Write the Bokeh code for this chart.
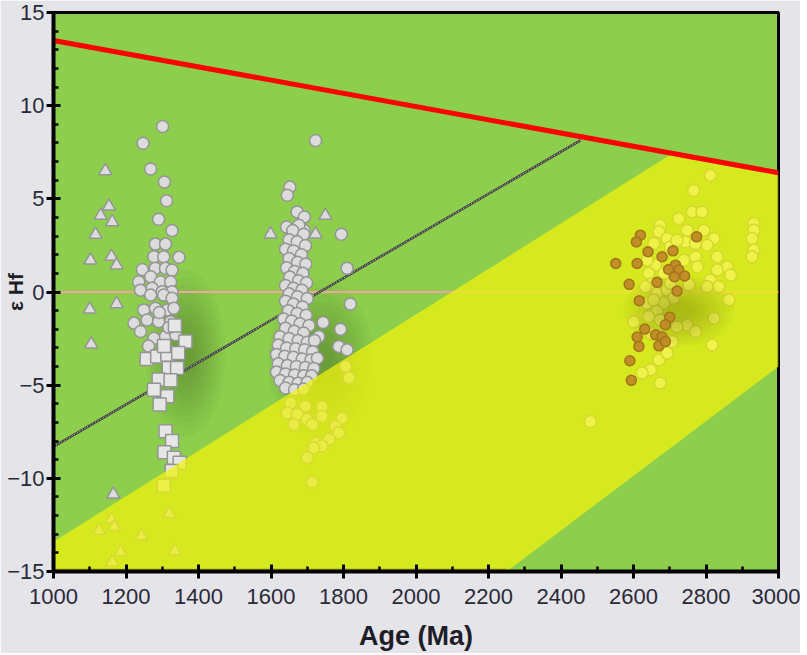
import numpy as np
from bokeh.plotting import figure
from bokeh.models import Range1d, FixedTicker
from bokeh.embed import file_html
from bokeh.resources import INLINE

# ---------------- data ----------------
x_ticks = [1000, 1200, 1400, 1600, 1800, 2000, 2200, 2400, 2600, 2800, 3000]
x_minor = [1100, 1300, 1500, 1700, 1900, 2100, 2300, 2500, 2700, 2900]
y_ticks = [-15, -10, -5, 0, 5, 10, 15]
y_minor = [v for v in range(-15, 16) if v % 5 != 0]

dm_age = [1000, 3000]
dm_ehf = [13.5, 6.4]
chur_age = [1000, 3000]
chur_ehf = [0, 0]
crust_age = [1000, 2455]
crust_ehf = [-8.3, 8.15]
band_age = [1000, 1000, 2708, 3000, 3000, 2250]
band_ehf = [-15, -13.4, 7.44, 6.4, -4.0, -15]

tri_age = [1143, 1153, 1130, 1162, 1116, 1102, 1160, 1174, 1599, 1750, 1723, 1100, 1174, 1104,
           1165, 1160, 1168, 1126, 1243, 1320, 1185, 1162, 1335]
tri_ehf = [6.5, 4.6, 4.1, 3.76, 3.08, 1.7, 1.9, 1.44, 3.1, 4.1, 3.1, -0.93, -0.64, -2.8,
           -10.86, -12.2, -12.6, -12.8, -13.1, -11.9, -13.96, -14.5, -13.9]

sq_age = [1364, 1257, 1286, 1314, 1344, 1318, 1341, 1290, 1323, 1277, 1314, 1293, 1309, 1327,
          1306, 1332, 1348, 1326, 1304, 1335, 1305]
sq_ehf = [-2.66, -3.6, -3.46, -3.37, -3.28, -4.08, -4.08, -4.7, -4.74, -5.24, -5.6, -6.04, -7.47, -8.0,
          -8.6, -8.9, -9.16, -9.6, -10.4, -1.8, -2.9]

b_age = [1301, 1247, 1268, 1306, 1312, 1290, 1327,
         1281, 1309, 1277, 1304, 1346, 1245, 1281, 1309, 1327, 1235, 1268, 1295, 1323, 1240, 1272, 1300, 1327,
         1268, 1304, 1327, 1249, 1281, 1314, 1332, 1222, 1258, 1290, 1323, 1240, 1277, 1309, 1337,
         1292, 1318, 1262]
b_ehf = [8.88, 7.98, 6.6, 5.9, 4.9, 3.9, 3.3,
         2.57, 2.57, 1.89, 1.89, 1.86, 1.21, 1.27, 1.27, 1.18, 0.55, 0.82, 0.55, 0.55, 0.1, 0.2, 0.02, 0.02,
         -0.16, -0.16, -0.34, -0.96, -0.87, -0.96, -0.87, -1.67, -1.5, -1.59, -1.59, -2.12, -2.48, -2.39, -2.3,
         -1.1, -1.9, -2.9]

c_age = [1723, 1652, 1645, 1672, 1692, 1643, 1692, 1658, 1794, 1810, 1819, 1744, 1792, 1732, 1787, 1810, 1806, 1815,
         1677, 1660, 1690, 1650, 1672, 1695, 1640, 1662, 1684, 1650, 1673, 1696, 1643, 1665, 1688, 1652, 1676, 1698,
         1640, 1662, 1685, 1650, 1673, 1700, 1640, 1662, 1687, 1648, 1672, 1697, 1635, 1657, 1680, 1705, 1640, 1664,
         1690, 1625, 1650, 1675, 1700, 1720, 1620, 1643, 1668, 1693, 1715, 1615, 1638, 1662, 1686, 1710, 1728, 1620,
         1645, 1670, 1695, 1718, 1615, 1640, 1665, 1690, 1712, 1625, 1650, 1675, 1700, 1640, 1665, 1690,
         1654, 1695, 1741, 1645, 1672, 1741, 1700, 1663, 1714, 1796, 1778, 1787, 1723, 1760, 1741, 1718, 1700, 1714]
c_ehf = [8.13, 5.63, 5.19, 4.3, 4.03, 3.49, 3.3, 2.96, 3.1, 1.27, -0.64, -1.64, -2.0, -2.39, -2.92, -3.1, -3.99, -4.6,
         3.58, 3.3, 3.1, 2.8, 2.7, 2.5, 2.3, 2.2, 2.0, 1.8, 1.6, 1.5, 1.3, 1.1, 1.0, 0.8, 0.6, 0.5,
         0.35, 0.2, 0.1, -0.1, -0.25, -0.35, -0.5, -0.65, -0.8, -1.0, -1.15, -1.25, -1.45, -1.55, -1.7, -1.8, -1.95, -2.1,
         -2.2, -2.4, -2.5, -2.6, -2.7, -2.6, -2.85, -3.0, -3.05, -3.1, -3.2, -3.35, -3.45, -3.5, -3.6, -3.65, -3.55, -3.85,
         -3.95, -4.0, -4.05, -4.1, -4.3, -4.4, -4.45, -4.5, -4.5, -4.75, -4.85, -4.9, -4.85, -5.15, -5.25, -5.2,
         -5.96, -6.13, -6.17, -6.49, -6.58, -6.67, -6.84, -7.11, -7.11, -6.76, -7.2, -7.56, -8.1, -7.9, -8.27, -8.36, -8.9, -10.2]

d_age = [2674, 2670, 2693, 2748, 2794, 2822, 2743, 2771, 2803, 2932, 2932, 2927, 2932, 2927, 2831, 2858, 2868, 2831,
         2812, 2835, 2803, 2661, 2642, 2651, 2633, 2665, 2693, 2711, 2684, 2638, 2863, 2665, 2822, 2748, 2771, 2720,
         2601, 2707, 2670, 2693, 2647, 2624, 2817, 2674, 2642, 2739, 2771, 2776, 2753, 2812, 2766, 2762, 2789, 2725,
         2656, 2702, 2720, 2638, 2684, 2702, 2656, 2674, 2647, 2481]
d_ehf = [3.58, 3.23, 2.87, 3.32, 3.32, 2.87, 2.69, 2.60, 2.51, 3.67, 3.32, 2.87, 2.25, 1.89, 1.89, 1.35, 0.91, 1.18,
         0.64, 0.28, 0.28, 1.44, 1.0, 0.46, 0.28, -0.07, 0.11, -0.34, -0.61, -0.61, -0.43, -1.05, -1.41, -1.77, -2.12, -1.86,
         -1.59, -2.66, -3.64, -3.28, -4.17, -4.35, -2.84, -4.89, -1.32, 1.71, 1.89, 1.35, 0.37, 6.26, 5.45, 4.30, 4.30, 3.94,
         2.6, 2.42, 2.78, 1.71, 1.0, 0.46, -0.43, -1.5, -2.21, -6.95]

o_age = [2619, 2608, 2640, 2709, 2774, 2679, 2551, 2610, 2716, 2697, 2725, 2713, 2741, 2665, 2588, 2720, 2616, 2700,
         2688, 2631, 2661, 2679, 2610, 2615, 2670, 2688, 2590, 2594]
o_ehf = [3.05, 2.69, 2.16, 2.21, 2.96, 1.89, 1.53, 1.53, 1.44, 1.21, 1.18, 0.82, 0.86, 0.52, 0.41, 0.05, -0.47, -1.35,
         -1.76, -1.99, -2.3, -2.42, -2.42, -2.92, -2.89, -2.66, -3.69, -4.74]

# ---------------- figure ----------------
p = figure(width=800, height=653, x_range=Range1d(x_ticks[0], x_ticks[-1]), y_range=Range1d(y_ticks[0], y_ticks[-1]),
           output_backend="svg", toolbar_location=None,
           min_border_left=53, min_border_right=22, min_border_top=12, min_border_bottom=80)
p.background_fill_color = "#8dce4c"
p.border_fill_color = "#e4e4e9"
p.grid.visible = False
p.outline_line_color = "black"
p.outline_line_width = 3


def soft_shadow(ages, ehfs, dx, dy, sx, sy, alpha, n=10):
    cx = float(np.median(ages)) + dx
    cy = float(np.median(ehfs)) + dy
    w = float(np.std(ages)) * sx
    h = float(np.std(ehfs)) * sy
    for k in range(n):
        f = 1.0 - k * (0.85 / n)
        p.ellipse(x=cx, y=cy, width=w * f, height=h * f,
                  fill_color="black", fill_alpha=alpha, line_color=None)


# blurred drop shadows behind the clusters
soft_shadow(b_age + sq_age, b_ehf + sq_ehf, 60, -2.2, 7.0, 2.2, 0.022)
soft_shadow(c_age, c_ehf, 60, -1.2, 6.0, 2.4, 0.022)

# reference lines (below the translucent band)
p.line(chur_age, chur_ehf, line_color="#f2a4a0", line_width=2)
p.line(crust_age, crust_ehf, line_color="#444444", line_width=2.5)
p.line(crust_age, crust_ehf, line_color="#d8d8d8", line_width=1, line_dash="1 2")

# data points
pt_fill = "#dcdcdc"
pt_line = "#959595"
p.scatter(c_age, c_ehf, marker="circle", size=12, fill_color=pt_fill, line_color=pt_line, line_width=1.5)
p.scatter(b_age, b_ehf, marker="circle", size=12, fill_color=pt_fill, line_color=pt_line, line_width=1.5)
p.scatter(sq_age, sq_ehf, marker="square", size=13, fill_color="#e6e6e6", line_color=pt_line, line_width=1.5)
p.scatter(tri_age, tri_ehf, marker="triangle", size=13, fill_color=pt_fill, line_color=pt_line, line_width=1.5)
p.scatter(d_age, d_ehf, marker="circle", size=12, fill_color="#f2f2f2", line_color="#8a8a8a", line_width=1.5)

# translucent yellow band on top
p.patch(band_age, band_ehf, fill_color="#eef10f", fill_alpha=0.75, line_color=None)
p.line(band_age[-1:] + band_age[:1], band_ehf[-1:] + band_ehf[:1], line_color="#b2ba12", line_width=6)

soft_shadow(d_age[:-1], d_ehf[:-1], 0, -2.0, 3.5, 1.6, 0.018)

p.scatter(o_age, o_ehf, marker="circle", size=10, fill_color="#c08a26", line_color="#a3741c",
          line_width=1.5, fill_alpha=0.95)

# depleted mantle line
p.line(dm_age, dm_ehf, line_color="#ff0000", line_width=5)

# ---------------- axes ----------------
p.xaxis.ticker = FixedTicker(ticks=x_ticks, minor_ticks=x_minor)
p.yaxis.ticker = FixedTicker(ticks=y_ticks, minor_ticks=y_minor)
for ax in (p.xaxis[0], p.yaxis[0]):
    ax.axis_line_width = 4
    ax.axis_line_color = "black"
    ax.major_tick_line_width = 3
    ax.major_tick_line_color = "black"
    ax.major_tick_in = 7
    ax.major_tick_out = 7
    ax.minor_tick_line_width = 2.5
    ax.minor_tick_line_color = "black"
    ax.minor_tick_in = 5
    ax.minor_tick_out = 0
    ax.major_label_text_font = "Liberation Sans"
    ax.major_label_text_font_size = "22px"
    ax.major_label_text_color = "#2a2a38"
    ax.axis_label_text_font = "Liberation Sans"
    ax.axis_label_text_font_style = "bold"
    ax.axis_label_text_color = "#1e1e28"
p.xaxis.major_label_standoff = 10
p.yaxis.major_label_standoff = 2
p.xaxis.axis_label = "Age (Ma)"
p.xaxis.axis_label_text_font_size = "27px"
p.xaxis.axis_label_standoff = 14

# y-axis title sits partly over the tick-label column, as in the reference
p.yaxis.axis_label = "ε Hf"
p.yaxis.axis_label_text_font_size = "21px"
p.yaxis.axis_label_standoff = -23

open("out.html", "w").write(file_html(p, INLINE))
